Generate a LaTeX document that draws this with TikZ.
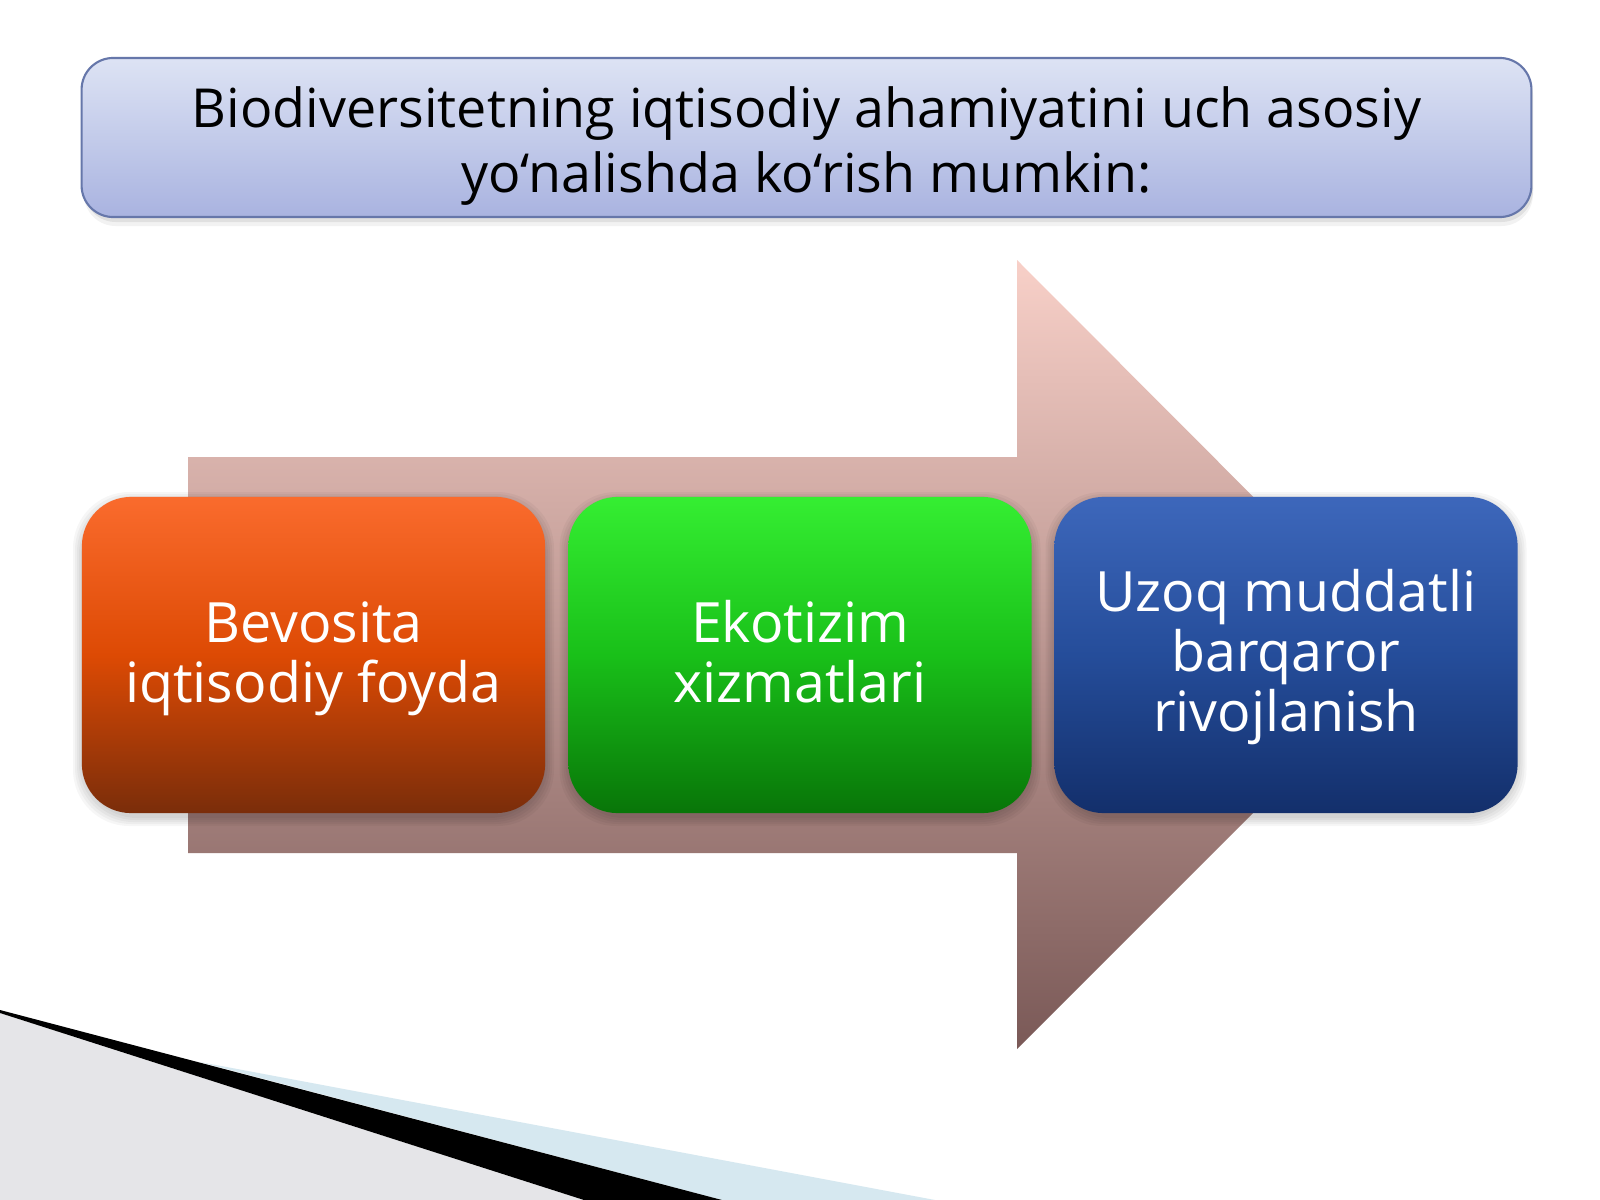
\documentclass[tikz,border=0pt]{standalone}
\usepackage{fontspec}
\setmainfont{Open Sans}
\definecolor{titletop}{HTML}{DDE3F4}
\definecolor{titlebot}{HTML}{A9B3E0}
\definecolor{titleline}{HTML}{6677AA}
\definecolor{arrtop}{HTML}{F8D0C8}
\definecolor{arrbot}{HTML}{7A5957}
\definecolor{oratop}{HTML}{FA6B2D}
\definecolor{oramid}{HTML}{DD4A04}
\definecolor{orabot}{HTML}{7A2D0A}
\definecolor{grntop}{HTML}{35EE32}
\definecolor{grnmid}{HTML}{19C019}
\definecolor{grnbot}{HTML}{087508}
\definecolor{blutop}{HTML}{3D67BB}
\definecolor{blumid}{HTML}{254D9A}
\definecolor{blubot}{HTML}{132F6B}
\definecolor{decogray}{HTML}{E5E5E8}
\definecolor{decoblue}{HTML}{D6E8F0}
\tikzset{
  x=0.01cm, y=-0.01cm,
  panel/.style={rectangle, rounded corners=14pt, minimum width=4.63cm, minimum height=3.16cm, inner sep=0pt},
  btext/.style={anchor=base, text=white, inner sep=0pt, font=\fontsize{15.8}{17}\selectfont},
  ttext/.style={anchor=base, text=black, inner sep=0pt, font=\fontsize{15.3}{18}\selectfont},
  softshadow/.style={fill=black, opacity=0.035, rounded corners=16pt}
}
\begin{document}
\begin{tikzpicture}
\fill[white] (0,0) rectangle (1600,1200);
\useasboundingbox (0,0) rectangle (1600,1200);

% bottom-left decoration
\fill[decogray] (0,1013) -- (584,1200) -- (0,1200) -- cycle;
\fill[decoblue] (200,1062) -- (935,1200) -- (722,1200) -- cycle;
\fill[black] (0,1010) -- (722,1200) -- (584,1200) -- (0,1013) -- cycle;

% title shadow and box
\fill[black, opacity=0.05, rounded corners=9pt] (84,64) rectangle (1533,226);
\fill[black, opacity=0.07, rounded corners=9pt] (84,62) rectangle (1533,222);
\node[rectangle, rounded corners=9pt, draw=titleline, line width=0.6pt,
      top color=titletop, bottom color=titlebot,
      minimum width=14.49cm, minimum height=1.59cm, inner sep=0pt] (title) at (806.5,137.5) {};
\node[ttext] (title1) at (806.5,127) {Biodiversitetning iqtisodiy ahamiyatini uch asosiy};
\node[ttext] (title2) at (806.5,192) {yo‘nalishda ko‘rish mumkin:};

% big arrow
\shade[top color=arrtop, bottom color=arrbot]
  (188,457) -- (1017,457) -- (1017,260) -- (1411,655) -- (1017,1049) -- (1017,853) -- (188,853) -- cycle;

% box shadows
\foreach \cx in {313.5,800,1286}{
  \foreach \d in {1,3,5,7,9}{
    \fill[softshadow] (\cx-231.5-\d,497-\d+4) rectangle (\cx+231.5+\d,813+\d+4);
  }
}

% boxes
\node[panel, top color=oratop, bottom color=orabot, middle color=oramid] (box1) at (313.5,655) {};
\node[panel, top color=grntop, bottom color=grnbot, middle color=grnmid] (box2) at (800,655) {};
\node[panel, top color=blutop, bottom color=blubot, middle color=blumid] (box3) at (1286,655) {};

\node[btext] (b1a) at (313.5,642) {Bevosita};
\node[btext] (b1b) at (313.5,702) {iqtisodiy foyda};
\node[btext] (b2a) at (800,642) {Ekotizim};
\node[btext] (b2b) at (800,702) {xizmatlari};
\node[btext] (b3a) at (1286,611) {Uzoq muddatli};
\node[btext] (b3b) at (1286,671) {barqaror};
\node[btext] (b3c) at (1286,731) {rivojlanish};
\end{tikzpicture}
\end{document}
